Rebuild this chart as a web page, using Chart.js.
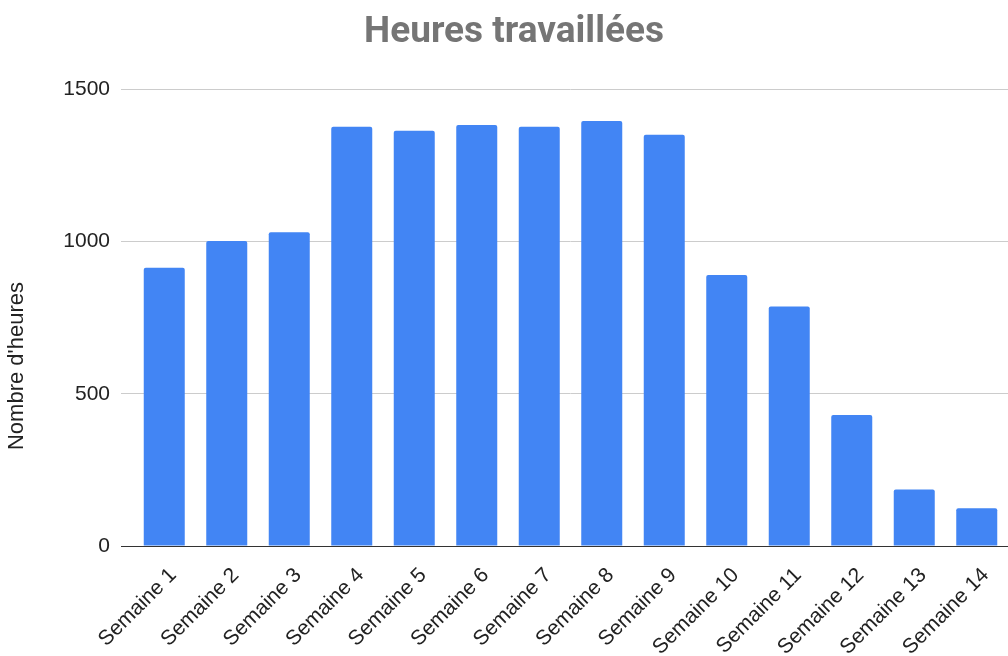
<!DOCTYPE html>
<html>
<head>
<meta charset="utf-8">
<script src="https://cdn.jsdelivr.net/npm/chart.js@4"></script>
<style>
  html, body { margin: 0; padding: 0; background: #fff; }
  #wrap { width: 1008px; height: 656px; overflow: hidden; }
</style>
</head>
<body>
<div id="wrap"><canvas id="myChart" width="1008" height="656"></canvas></div>
<script>
// Chart data
const semaines = ['Semaine 1', 'Semaine 2', 'Semaine 3', 'Semaine 4', 'Semaine 5', 'Semaine 6', 'Semaine 7',
    'Semaine 8', 'Semaine 9', 'Semaine 10', 'Semaine 11', 'Semaine 12', 'Semaine 13', 'Semaine 14'];
const heures = [914, 1002, 1031, 1377, 1364, 1383, 1377, 1396, 1351, 890, 787, 430, 186, 124];
const yTicks = [0, 500, 1000, 1500];

const chartTitle = 'Heures travaillées';
const yTitle = "Nombre d'heures";

Chart.defaults.font.family = '"Liberation Sans", Arial, sans-serif';
Chart.defaults.color = '#222';

// Draw the rotated y axis title a bit lower, like the original
const yTitlePlugin = {
    id: 'yTitle',
    afterDraw(chart) {
        const ctx = chart.ctx;
        const area = chart.chartArea;
        ctx.save();
        ctx.translate(17, area.bottom - 180);
        ctx.rotate(-Math.PI / 2);
        ctx.font = '22px "Liberation Sans", Arial, sans-serif';
        ctx.fillStyle = '#222';
        ctx.textAlign = 'center';
        ctx.textBaseline = 'middle';
        ctx.fillText(yTitle, 0, 0);
        ctx.restore();
    }
};

const ctx = document.getElementById('myChart').getContext('2d');
const myChart = new Chart(ctx, {
    type: 'bar',
    data: {
        labels: semaines,
        datasets: [{
            label: yTitle,
            data: heures,
            backgroundColor: '#4285f4',
            borderRadius: 2,
            borderSkipped: 'start',
            categoryPercentage: 1,
            barPercentage: 0.656
        }]
    },
    options: {
        responsive: false,
        devicePixelRatio: 1,
        animation: false,
        // left padding nudges the centred title to the right, like the original
        layout: { padding: { left: 20, right: 0, top: 0, bottom: 0 } },
        plugins: {
            legend: { display: false },
            tooltip: { enabled: false },
            title: {
                display: true,
                text: chartTitle,
                color: '#757575',
                font: { family: 'Roboto, "Liberation Sans", sans-serif', size: 37, weight: 'bold' },
                padding: { top: 11, bottom: 34 }
            }
        },
        scales: {
            x: {
                grid: { display: false },
                border: { display: true, color: '#333', width: 1 },
                ticks: {
                    maxRotation: 45,
                    minRotation: 45,
                    autoSkip: false,
                    font: { size: 21 },
                    color: '#222',
                    padding: 9,
                    labelOffset: 9
                },
                afterFit: (scale) => { scale.height = 110; }
            },
            y: {
                min: 0,
                max: 1500,
                afterBuildTicks: (scale) => { scale.ticks = yTicks.map(v => ({ value: v })); },
                grid: {
                    color: (c) => (c.tick && c.tick.value === 0 ? '#333' : '#ccc'),
                    lineWidth: 1,
                    drawTicks: true,
                    tickLength: 12
                },
                border: { display: false },
                ticks: {
                    font: { size: 21 },
                    color: '#222',
                    padding: 11,
                    callback: (v) => String(v)
                },
                afterFit: (scale) => { scale.width = 113; }
            }
        }
    },
    plugins: [yTitlePlugin]
});
</script>
</body>
</html>
